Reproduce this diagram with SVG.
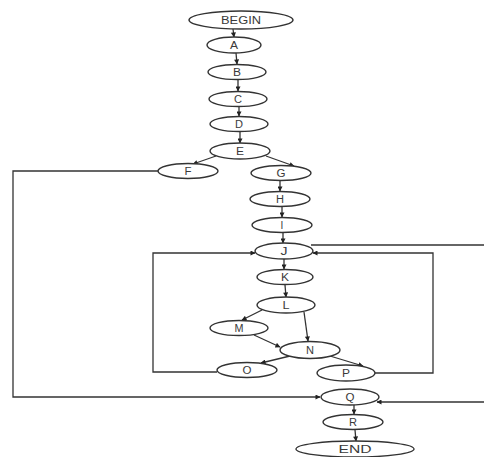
<svg xmlns="http://www.w3.org/2000/svg" width="484" height="457" viewBox="0 0 484 457">
  <style>
    .node ellipse { fill: #ffffff; stroke: #333333; stroke-width: 1.4; }
    .node text { font-family: "Liberation Sans", Arial, sans-serif; font-size: 10px; fill: #3a3a3a; text-anchor: middle; }
    .edge { fill: none; stroke: #333333; stroke-width: 1.3; }
    .arr { marker-end: url(#head); }
  </style>
  <defs>
    <marker id="head" viewBox="0 0 10 10" refX="9" refY="5" markerWidth="6" markerHeight="5" markerUnits="userSpaceOnUse" orient="auto">
      <path d="M0,0 L10,5 L0,10 z" fill="#222222"/>
    </marker>
  </defs>
  <rect width="484" height="457" fill="#ffffff"/>

  <!-- connectors -->
  <g id="connectors">
    <line class="edge arr" x1="233" y1="29" x2="234" y2="37"/>
    <line class="edge arr" x1="236" y1="53" x2="237" y2="64"/>
    <line class="edge arr" x1="238" y1="80" x2="238" y2="91"/>
    <line class="edge arr" x1="239" y1="107" x2="239" y2="116"/>
    <line class="edge arr" x1="240" y1="132" x2="240" y2="143"/>
    <!-- E splits to F and G -->
    <line class="edge arr" x1="216" y1="156" x2="193" y2="164"/>
    <line class="edge arr" x1="266" y1="156" x2="294" y2="166"/>
    <line class="edge arr" x1="280" y1="181" x2="280" y2="191"/>
    <line class="edge arr" x1="282" y1="207" x2="282" y2="217"/>
    <line class="edge arr" x1="283" y1="233" x2="283" y2="243"/>
    <line class="edge arr" x1="284" y1="259" x2="284" y2="269"/>
    <line class="edge arr" x1="285" y1="285" x2="286" y2="297"/>
    <!-- L to M and N -->
    <line class="edge arr" x1="262" y1="310" x2="242" y2="320"/>
    <line class="edge arr" x1="304" y1="312" x2="308" y2="341"/>
    <!-- M to N -->
    <line class="edge arr" x1="254" y1="335" x2="280" y2="347"/>
    <!-- N to O and P -->
    <line class="edge arr" x1="290" y1="356" x2="261" y2="363"/>
    <line class="edge arr" x1="330" y1="356" x2="363" y2="366"/>
    <!-- O loops back to J -->
    <polyline class="edge arr" points="217,372 153,372 153,253 255,253"/>
    <!-- P loops back to J -->
    <polyline class="edge arr" points="375,373 433,373 433,253 313,253"/>
    <!-- J leaves to the right, returns into Q -->
    <line class="edge" x1="311" y1="245" x2="484" y2="245"/>
    <line class="edge arr" x1="484" y1="402" x2="377" y2="402"/>
    <!-- F down to Q -->
    <polyline class="edge arr" points="158,171 13,171 13,397 320,397"/>
    <line class="edge arr" x1="354" y1="405" x2="354" y2="414"/>
    <line class="edge arr" x1="355" y1="430" x2="356" y2="441"/>
  </g>

  <g id="BEGIN" class="node"><ellipse cx="241" cy="20" rx="52" ry="9"/><text x="241" y="23.5" textLength="40" lengthAdjust="spacingAndGlyphs">BEGIN</text></g>
  <g id="A" class="node"><ellipse cx="234" cy="45" rx="27" ry="8"/><text x="234" y="48.5" textLength="8" lengthAdjust="spacingAndGlyphs">A</text></g>
  <g id="B" class="node"><ellipse cx="237" cy="72" rx="29" ry="7.5"/><text x="237" y="75.5" textLength="8" lengthAdjust="spacingAndGlyphs">B</text></g>
  <g id="C" class="node"><ellipse cx="238" cy="99" rx="29" ry="7.5"/><text x="238" y="102.5" textLength="8" lengthAdjust="spacingAndGlyphs">C</text></g>
  <g id="D" class="node"><ellipse cx="239" cy="124" rx="29" ry="7.5"/><text x="239" y="127.5" textLength="8" lengthAdjust="spacingAndGlyphs">D</text></g>
  <g id="E" class="node"><ellipse cx="240" cy="151" rx="30" ry="8"/><text x="240" y="154.5" textLength="8" lengthAdjust="spacingAndGlyphs">E</text></g>
  <g id="F" class="node"><ellipse cx="188" cy="171" rx="30" ry="7.5"/><text x="188" y="174.5" textLength="7" lengthAdjust="spacingAndGlyphs">F</text></g>
  <g id="G" class="node"><ellipse cx="281" cy="173" rx="30" ry="7.5"/><text x="281" y="176.5" textLength="9" lengthAdjust="spacingAndGlyphs">G</text></g>
  <g id="H" class="node"><ellipse cx="280" cy="199" rx="30" ry="7.5"/><text x="280" y="202.5" textLength="8" lengthAdjust="spacingAndGlyphs">H</text></g>
  <g id="I" class="node"><ellipse cx="282" cy="225" rx="30" ry="7.5"/><text x="282" y="228.5">I</text></g>
  <g id="J" class="node"><ellipse cx="284" cy="251" rx="29" ry="8"/><text x="284" y="254.5" textLength="7" lengthAdjust="spacingAndGlyphs">J</text></g>
  <g id="K" class="node"><ellipse cx="285" cy="277" rx="28" ry="7.5"/><text x="285" y="280.5" textLength="8" lengthAdjust="spacingAndGlyphs">K</text></g>
  <g id="L" class="node"><ellipse cx="286" cy="305" rx="29" ry="8"/><text x="286" y="308.5" textLength="7" lengthAdjust="spacingAndGlyphs">L</text></g>
  <g id="M" class="node"><ellipse cx="239" cy="328" rx="29" ry="7.5"/><text x="239" y="331.5" textLength="9" lengthAdjust="spacingAndGlyphs">M</text></g>
  <g id="N" class="node"><ellipse cx="310" cy="350" rx="30" ry="8.5"/><text x="310" y="353.5" textLength="8" lengthAdjust="spacingAndGlyphs">N</text></g>
  <g id="O" class="node"><ellipse cx="247" cy="370" rx="30" ry="7.5"/><text x="247" y="373.5" textLength="9" lengthAdjust="spacingAndGlyphs">O</text></g>
  <g id="P" class="node"><ellipse cx="346" cy="373" rx="29" ry="8"/><text x="346" y="376.5" textLength="8" lengthAdjust="spacingAndGlyphs">P</text></g>
  <g id="Q" class="node"><ellipse cx="350" cy="397" rx="29" ry="8"/><text x="350" y="400.5" textLength="9" lengthAdjust="spacingAndGlyphs">Q</text></g>
  <g id="R" class="node"><ellipse cx="353" cy="422" rx="30" ry="7.5"/><text x="353" y="425.5" textLength="8" lengthAdjust="spacingAndGlyphs">R</text></g>
  <g id="END" class="node"><ellipse cx="355" cy="449" rx="59" ry="8"/><text x="355" y="452.5" textLength="33" lengthAdjust="spacingAndGlyphs">END</text></g>
</svg>
